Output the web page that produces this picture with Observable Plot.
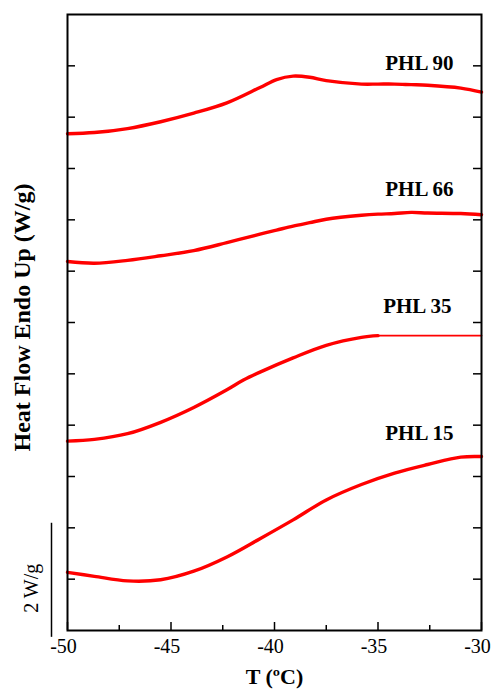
<!DOCTYPE html>
<html>
<head>
<meta charset="utf-8">
<script src="https://cdn.jsdelivr.net/npm/d3@7"></script>
<script src="https://cdn.jsdelivr.net/npm/@observablehq/plot@0.6"></script>
<style>
  body { margin: 0; background: #fff; }
  svg { font-family: "Liberation Serif", "Times New Roman", serif; }
</style>
</head>
<body>
<div id="chart"></div>
<script>
// Temperature samples (°C) for the traced curves
const T = [-50, -48.7, -47.1, -45.5, -43.9, -42.3, -40.7, -39.9, -39.1, -38.3, -37.5, -35.8, -35.0, -34.2, -33.4, -32.6, -31.0, -30];
// Heat flow (W/g, offset) per sample
const phl90 = [8.71, 8.73, 8.80, 8.92, 9.07, 9.25, 9.52, 9.66, 9.72, 9.70, 9.64, 9.58, 9.58, 9.58, 9.57, 9.56, 9.51, 9.44];
const phl66 = [6.47, 6.44, 6.49, 6.57, 6.66, 6.80, 6.95, 7.02, 7.09, 7.15, 7.21, 7.28, 7.30, 7.31, 7.33, 7.32, 7.31, 7.29];
const phl35T = [-50, -48.7, -47.1, -45.5, -43.9, -42.3, -41.5, -40.7, -39.1, -37.5, -35.8, -35.0];
const phl35 = [3.32, 3.35, 3.45, 3.65, 3.91, 4.22, 4.39, 4.53, 4.78, 5.00, 5.14, 5.17];
const phl35FlatT = [-35.0, -30];
const phl35Flat = [5.17, 5.17];
const phl15T = [-50, -48.7, -47.1, -45.5, -43.9, -42.3, -40.7, -39.1, -37.5, -35.8, -34.2, -32.6, -31.0, -30];
const phl15 = [1.02, 0.95, 0.87, 0.89, 1.04, 1.29, 1.61, 1.94, 2.29, 2.56, 2.76, 2.91, 3.04, 3.05];

// Curve labels
const labels = ["PHL 90", "PHL 66", "PHL 35", "PHL 15"];
const labelT = [-33.0, -33.0, -33.1, -33.0];
const labelY = [9.94, 7.74, 5.68, 3.46];

// Axis ticks
const xMajor = [-50, -45, -40, -35, -30];
const xMinor = [-47.5, -42.5, -37.5, -32.5];
const xTickLabels = ["-50", "-45", "-40", "-35", "-30"];
const yTicks = [0.9, 1.8, 2.7, 3.6, 4.5, 5.4, 6.3, 7.2, 8.1, 9.0, 9.9];

// Scale bar (2 W/g)
const scaleBarFrom = [-0.12];
const scaleBarTo = [1.88];
const scaleBarLabel = ["2 W/g"];
const scaleBarLabelY = [0.74];

const width = 493, height = 696;
const mL = 67, mR = 12, mT = 14, mB = 66;
const innerW = width - mL - mR, innerH = height - mT - mB;

const mk = (xs, ys) => xs.map((t, i) => ({T: t, v: ys[i]}));
const series = [
  mk(T, phl90), mk(T, phl66), mk(phl35T, phl35), mk(phl15T, phl15)
];
const red = "#ff0000";
const serif = "Liberation Serif, Times New Roman, serif";

const plot = Plot.plot({
  width, height,
  marginLeft: mL, marginRight: mR, marginTop: mT, marginBottom: mB,
  x: {domain: [-50, -30], axis: null},
  y: {domain: [0, 10.8], axis: null},
  style: {fontFamily: serif, background: "#fff", overflow: "visible"},
  marks: [
    // curves
    ...series.map(d => Plot.line(d, {x: "T", y: "v", stroke: red, strokeWidth: 3.4, curve: "catmull-rom"})),
    Plot.line(mk(phl35FlatT, phl35Flat), {x: "T", y: "v", stroke: red, strokeWidth: 1.8}),
    // frame
    Plot.frame({stroke: "#000", strokeWidth: 2}),
    // x ticks (inward)
    Plot.tickX(xMajor, {x: d => d, insetTop: innerH - 8, stroke: "#000", strokeWidth: 1.5}),
    Plot.tickX(xMinor, {x: d => d, insetTop: innerH - 5, stroke: "#000", strokeWidth: 1.5}),
    // y ticks left & right (inward)
    Plot.tickY(yTicks, {y: d => d, insetRight: innerW - 8, stroke: "#000", strokeWidth: 1.5}),
    Plot.tickY(yTicks, {y: d => d, insetLeft: innerW - 8, stroke: "#000", strokeWidth: 1.5}),
    // x tick labels
    Plot.text(xMajor, {x: d => d, frameAnchor: "bottom", text: (d, i) => xTickLabels[i], dx: -4, dy: 22, fontSize: 20, fill: "#000", fontFamily: serif}),
    // axis titles
    Plot.text(["T (ºC)"], {frameAnchor: "bottom", text: d => d, dy: 53, fontSize: 22, fontWeight: "bold", fill: "#000", fontFamily: serif}),
    Plot.text(["Heat Flow Endo Up (W/g)"], {frameAnchor: "left", text: d => d, textAnchor: "middle", rotate: -90, dx: -45, dy: -5, fontSize: 24, fontWeight: "bold", fill: "#000", fontFamily: serif}),
    // curve labels
    Plot.text(labels, {x: (d, i) => labelT[i], y: (d, i) => labelY[i], text: d => d, fontSize: 21, fontWeight: "bold", fill: "#000", fontFamily: serif}),
    // scale bar
    Plot.ruleX(scaleBarFrom, {x: -50, y1: d => d, y2: (d, i) => scaleBarTo[i], dx: -16, stroke: "#000", strokeWidth: 1.5}),
    Plot.text(scaleBarLabel, {x: -50, y: (d, i) => scaleBarLabelY[i], text: d => d, rotate: -90, dx: -36, fontSize: 20, fill: "#000", fontFamily: serif})
  ]
});
document.getElementById("chart").appendChild(plot);
</script>
</body>
</html>
